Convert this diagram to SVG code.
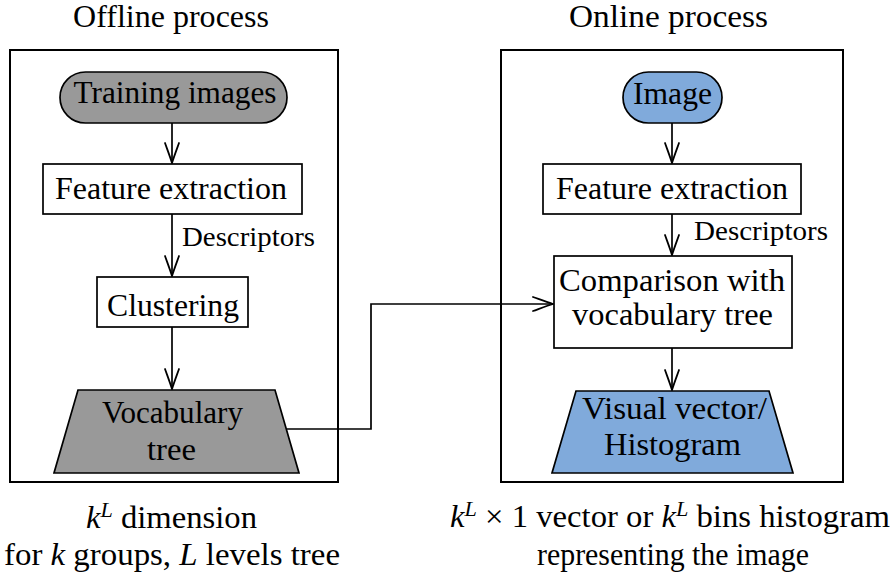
<svg xmlns="http://www.w3.org/2000/svg" width="895" height="577" viewBox="0 0 895 577">
  <style>
    text { font-family: "Liberation Serif", "Times New Roman", serif; fill: #000; }
    .lbl { font-size: 31px; text-anchor: middle; }
    .small { font-size: 27px; }
    .frame { fill: none; stroke: #000; stroke-width: 2; }
    .node { stroke: #000; stroke-width: 1.7; }
    .white { fill: #fff; }
    .grey { fill: #999999; }
    .blue { fill: #80aadb; }
    .edge { fill: none; stroke: #000; stroke-width: 1.7; marker-end: url(#arrow); }
    .it { font-style: italic; }
    .sup { font-size: 21px; font-style: italic; }
  </style>
  <defs>
    <marker id="arrow" markerUnits="userSpaceOnUse" viewBox="-22 -9 24 18" markerWidth="24" markerHeight="18" refX="0" refY="0" orient="auto" overflow="visible">
      <path d="M -20 -7 C -13 -4.5 -5 -1.5 0 0 C -5 1.5 -13 4.5 -20 7" fill="none" stroke="#000" stroke-width="1.8" stroke-linecap="round"/>
    </marker>
  </defs>

  <!-- process frames and their titles -->
  <g id="offline-frame">
    <rect class="frame" x="10" y="50" width="328" height="432"/>
    <text class="lbl" x="171" y="27" textLength="196" lengthAdjust="spacingAndGlyphs">Offline process</text>
  </g>
  <g id="online-frame">
    <rect class="frame" x="501" y="50" width="342" height="432"/>
    <text class="lbl" x="668.5" y="27" textLength="199" lengthAdjust="spacingAndGlyphs">Online process</text>
  </g>

  <!-- connectors -->
  <g id="connectors">
    <path class="edge" d="M 172 123 V 163"/>
    <path class="edge" d="M 172 214 V 276"/>
    <path class="edge" d="M 172 327 V 389"/>
    <path class="edge" d="M 672 123 V 163"/>
    <path class="edge" d="M 672 214 V 255"/>
    <path class="edge" d="M 672 348 V 390"/>
    <path class="edge" d="M 287 429 H 371 V 304 H 553"/>
    <text class="small" x="182" y="246" textLength="133" lengthAdjust="spacingAndGlyphs">Descriptors</text>
    <text class="small" x="694" y="240" textLength="134" lengthAdjust="spacingAndGlyphs">Descriptors</text>
  </g>

  <!-- offline nodes -->
  <g id="training-images">
    <rect class="node grey" x="60" y="72" width="227" height="51" rx="25.5" ry="25.5"/>
    <text class="lbl" x="175" y="103" textLength="203" lengthAdjust="spacingAndGlyphs">Training images</text>
  </g>
  <g id="feature-extraction-offline">
    <rect class="node white" x="43" y="164" width="259" height="50"/>
    <text class="lbl" x="171" y="199" textLength="232" lengthAdjust="spacingAndGlyphs">Feature extraction</text>
  </g>
  <g id="clustering">
    <rect class="node white" x="97" y="277" width="151" height="50"/>
    <text class="lbl" x="173" y="316" textLength="132" lengthAdjust="spacingAndGlyphs">Clustering</text>
  </g>
  <g id="vocabulary-tree">
    <polygon class="node grey" points="78,390 275,390 299,473 54,473"/>
    <text class="lbl" x="172.5" y="423" textLength="141" lengthAdjust="spacingAndGlyphs">Vocabulary</text>
    <text class="lbl" x="171.5" y="460" textLength="49" lengthAdjust="spacingAndGlyphs">tree</text>
  </g>

  <!-- online nodes -->
  <g id="image">
    <rect class="node blue" x="623" y="72" width="99" height="51" rx="25.5" ry="25.5"/>
    <text class="lbl" x="672.5" y="104" textLength="79" lengthAdjust="spacingAndGlyphs">Image</text>
  </g>
  <g id="feature-extraction-online">
    <rect class="node white" x="543" y="164" width="258" height="50"/>
    <text class="lbl" x="672" y="199" textLength="232" lengthAdjust="spacingAndGlyphs">Feature extraction</text>
  </g>
  <g id="comparison">
    <rect class="node white" x="554" y="256" width="238" height="92"/>
    <text class="lbl" x="672" y="291" textLength="226" lengthAdjust="spacingAndGlyphs">Comparison with</text>
    <text class="lbl" x="672.5" y="325" textLength="201" lengthAdjust="spacingAndGlyphs">vocabulary tree</text>
  </g>
  <g id="visual-vector">
    <polygon class="node blue" points="576,391 769,391 793,473 552,473"/>
    <text class="lbl" x="674.5" y="419" textLength="185" lengthAdjust="spacingAndGlyphs">Visual vector/</text>
    <text class="lbl" x="672.5" y="455" textLength="137" lengthAdjust="spacingAndGlyphs">Histogram</text>
  </g>

  <!-- captions under the frames -->
  <g id="offline-caption">
    <text class="lbl" x="171.5" y="528" textLength="171" lengthAdjust="spacingAndGlyphs"><tspan class="it">k</tspan><tspan class="sup" dy="-11">L</tspan><tspan dy="11"> dimension</tspan></text>
    <text class="lbl" x="172" y="565" textLength="336" lengthAdjust="spacingAndGlyphs">for <tspan class="it">k</tspan> groups, <tspan class="it">L</tspan> levels tree</text>
  </g>
  <g id="online-caption">
    <text class="lbl" x="670" y="527" textLength="440" lengthAdjust="spacingAndGlyphs"><tspan class="it">k</tspan><tspan class="sup" dy="-11">L</tspan><tspan dy="11"> × 1 vector or </tspan><tspan class="it">k</tspan><tspan class="sup" dy="-11">L</tspan><tspan dy="11"> bins histogram</tspan></text>
    <text class="lbl" x="673" y="565" textLength="272" lengthAdjust="spacingAndGlyphs">representing the image</text>
  </g>
</svg>
